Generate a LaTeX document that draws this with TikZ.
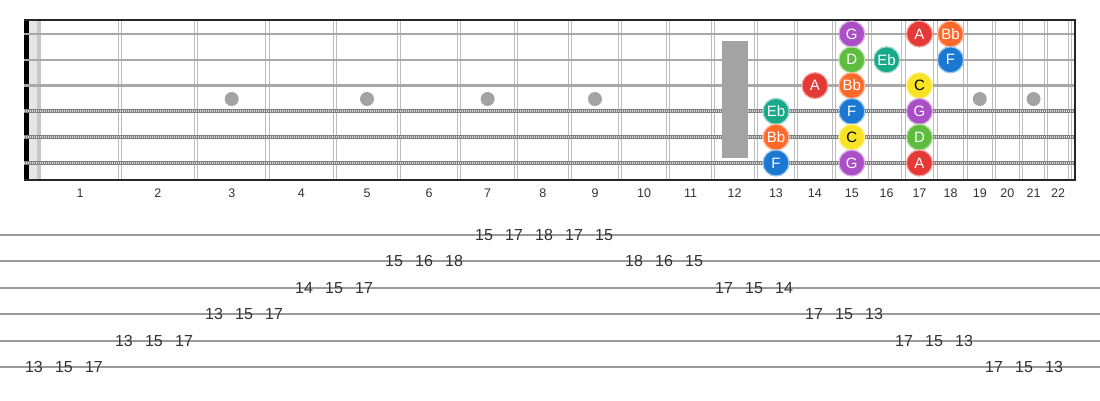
\documentclass[tikz,border=0pt]{standalone}
\usepackage{fontspec}
\setmainfont{Liberation Sans}

\definecolor{nG}{HTML}{AB4FC6}
\definecolor{nA}{HTML}{E53935}
\definecolor{nBb}{HTML}{FF6A2B}
\definecolor{nD}{HTML}{5EBD3E}
\definecolor{nEb}{HTML}{17A98A}
\definecolor{nF}{HTML}{1A78D2}
\definecolor{nC}{HTML}{F8E424}
\definecolor{wire}{HTML}{BDBDBD}
\definecolor{strg}{HTML}{A8A8A8}
\definecolor{inlay}{HTML}{A3A3A3}

\begin{document}
\begin{tikzpicture}[x=1pt,y=-1pt,
  declare function={fx(\n)=40+1432*(1-2^(-\n/12)); sy(\s)=34+25.8*(\s-1);},
  note/.style={circle,minimum size=26pt,inner sep=0pt,fill=n#1,draw=n#1!45!white,line width=1.2pt,
    font=\fontsize{15}{15}\selectfont},
  tabnum/.style={inner sep=0pt,text=black!80,font=\fontsize{16}{16}\selectfont},
  fretnum/.style={inner sep=0pt,text=black!80,font=\fontsize{12.5}{12.5}\selectfont}]
\useasboundingbox (0,0) rectangle (1100,400);

% nut
\fill[black!10] (28,20) rectangle (37,180);
\fill[black!22] (37,20) rectangle (41,180);
\fill[black] (24,20) rectangle (28.5,180);

% frets
\foreach \n in {1,...,22}
  \draw[wire,line width=1pt] ({fx(\n)-1.6},20) -- ({fx(\n)-1.6},180)
                             ({fx(\n)+1.6},20) -- ({fx(\n)+1.6},180);

% strings
\foreach \s in {1,2,3}
  \draw[strg,line width=2.6pt] (24,{sy(\s)}) -- (1075,{sy(\s)});
\foreach \s in {4,5,6}{
  \draw[black!50,line width=4pt] (24,{sy(\s)}) -- (1075,{sy(\s)});
  \draw[black!15,line width=2pt,dash pattern=on 1pt off 1pt] (24,{sy(\s)}) -- (1075,{sy(\s)});
}

% border
\draw[black!85,line width=2pt] (24,20) -- (1075,20) -- (1075,180) -- (24,180);

% inlays
\foreach \n in {3,5,7,9,19,21}
  \fill[inlay] ({(fx(\n-1)+fx(\n))/2},99) circle (7pt);
\fill[inlay] (721.5,40.5) rectangle (747.5,157.5);

% fret numbers
\foreach \n in {1,...,22}
  \node[fretnum] (fl\n) at ({(fx(\n-1)+fx(\n))/2},193) {\n};

% scale notes
\foreach \f/\s/\nm/\tc in {15/1/G/white,17/1/A/white,18/1/Bb/white,
    15/2/D/white,16/2/Eb/white,18/2/F/white,
    14/3/A/white,15/3/Bb/white,17/3/C/black,
    13/4/Eb/white,15/4/F/white,17/4/G/white,
    13/5/Bb/white,15/5/C/black,17/5/D/white,
    13/6/F/white,15/6/G/white,17/6/A/white}
  \node[note=\nm,text=\tc] (s\s f\f) at ({(fx(\f-1)+fx(\f))/2},{sy(\s)}) {\nm};

% tab
\foreach \y [count=\s] in {235,261,288,314,341,367}
  \draw[black!40,line width=2pt] (0,\y) -- (1100,\y);
\foreach \s/\v [count=\k from 0] in {6/13,6/15,6/17,5/13,5/15,5/17,4/13,4/15,4/17,
    3/14,3/15,3/17,2/15,2/16,2/18,1/15,1/17,1/18,1/17,1/15,
    2/18,2/16,2/15,3/17,3/15,3/14,4/17,4/15,4/13,5/17,5/15,5/13,6/17,6/15,6/13}
  \node[tabnum] (tab\k) at ({34+30*\k},{235+26.4*(\s-1)}) {\v};
\end{tikzpicture}
\end{document}
